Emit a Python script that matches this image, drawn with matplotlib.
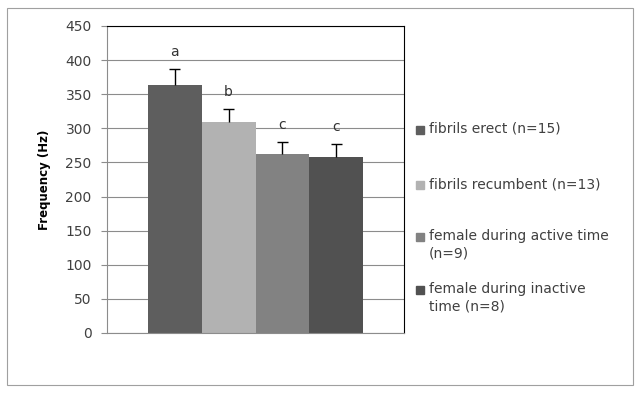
import matplotlib
matplotlib.use("Agg")
import matplotlib.pyplot as plt
from matplotlib.patches import Rectangle

plt.rcParams["font.family"] = ["DejaVu Sans"]

# data
labels = ["fibrils erect (n=15)", "fibrils recumbent (n=13)",
          "female during active time\n(n=9)", "female during inactive\ntime (n=8)"]
values = [364, 310, 262, 258]
errors = [23, 19, 18, 19]
letters = ["a", "b", "c", "c"]
colors = ["#5e5e5e", "#b2b2b2", "#828282", "#515151"]

fig = plt.figure(figsize=(6.42, 3.93), dpi=100)
# outer frame of the chart
fig.patches.append(Rectangle((7 / 642, 8 / 393), 626 / 642, 377 / 393,
                             transform=fig.transFigure, fill=False,
                             edgecolor="#a0a0a0", linewidth=0.8))

ax = fig.add_axes([107 / 642, 60 / 393, 297 / 642, 307 / 393])
x = [0, 1, 2, 3]
ax.bar(x, values, width=1.0, color=colors, zorder=2)
# upper error bars only (T shape)
tops = [v + e for v, e in zip(values, errors)]
ax.vlines(x, values, tops, color="black", linewidth=1, zorder=3)
ax.hlines(tops, [xi - 0.1 for xi in x], [xi + 0.1 for xi in x],
          color="black", linewidth=1, zorder=3)
for xi, t, lt in zip(x, tops, letters):
    ax.text(xi, t + 14, lt, ha="center", va="bottom", fontsize=10, color="#333333")

ax.set_xlim(-1.26, 4.26)
ax.set_ylim(0, 450)
ax.set_yticks(range(0, 451, 50))
ax.set_xticks([])
ax.yaxis.grid(True, color="#8c8c8c", linewidth=0.8, zorder=0)
ax.set_axisbelow(True)
ax.tick_params(axis="y", labelsize=10, labelcolor="#404040", color="#8c8c8c",
               length=4, width=0.8, pad=7)
for s in ["left", "bottom"]:
    ax.spines[s].set_color("#8c8c8c")
    ax.spines[s].set_linewidth(0.8)
for s in ["top", "right"]:
    ax.spines[s].set_color("black")
    ax.spines[s].set_linewidth(0.8)
ax.set_ylabel("Frequency (Hz)", fontsize=8.5, fontweight="bold", labelpad=10)

# legend laid out like the Excel one
leg_y = [130, 185, 237, 290]
for yy, lab, c in zip(leg_y, labels, colors):
    fig.patches.append(Rectangle((416 / 642, 1 - (yy + 4) / 393), 8 / 642, 8 / 393,
                                 transform=fig.transFigure, color=c))
    fig.text(429 / 642, 1 - (yy - 8) / 393, lab, ha="left", va="top",
             fontsize=10, color="#404040", linespacing=1.3)

fig.savefig("out.png", dpi=100)
